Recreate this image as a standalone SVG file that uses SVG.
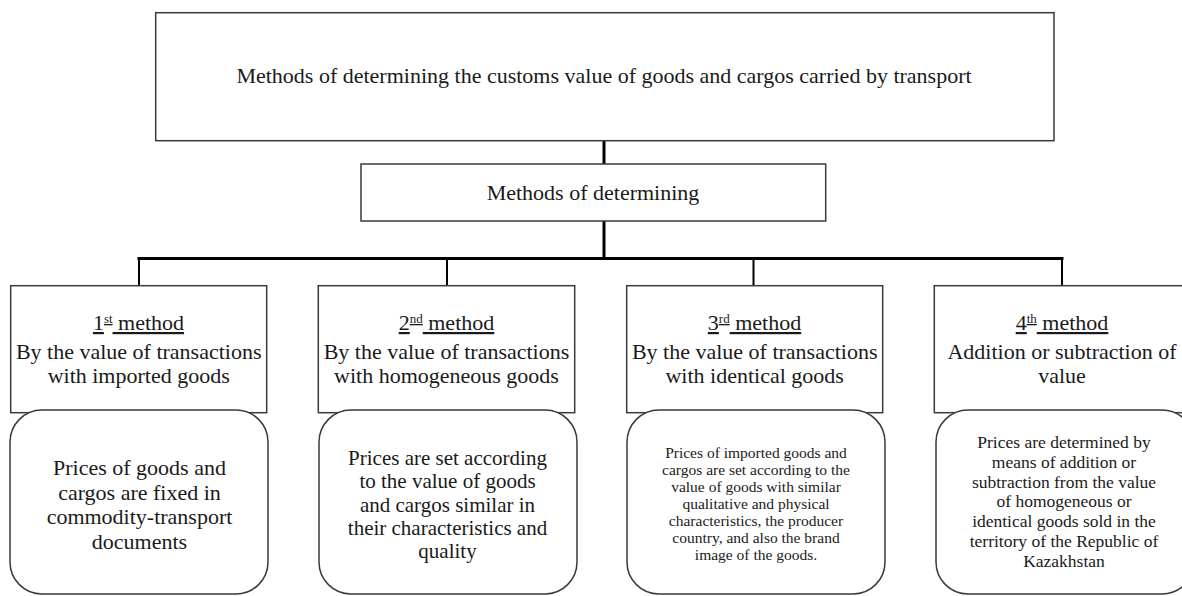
<svg xmlns="http://www.w3.org/2000/svg" width="1182" height="596" viewBox="0 0 1182 596">
<style>
.box{fill:#fff;stroke:#3a3a3a;stroke-width:1.5}
.conn{stroke:#000;fill:none;stroke-linecap:square}
.thick{stroke-width:3}
.thin{stroke-width:2}
text{font-family:'Liberation Serif','DejaVu Serif',serif;fill:#1a1a1a;text-anchor:middle}
.t22{font-size:22px}
.t21{font-size:21px}
.t17{font-size:17.5px}
.t15{font-size:15.5px}
.ul{text-decoration:underline}
.sup{font-size:13px}
</style>
<rect width="1182" height="596" fill="#fff"/>
<g id="connectors">
<path class="conn thick" d="M604,141 V164"/>
<path class="conn thick" d="M604,221 V258.5"/>
<path class="conn thick" d="M139,258.5 H1062"/>
<path class="conn thin" d="M139,258.5 V286"/>
<path class="conn thin" d="M447,258.5 V286"/>
<path class="conn thin" d="M753.5,258.5 V286"/>
<path class="conn thin" d="M1062,258.5 V286"/>
</g>
<g id="root">
<rect class="box" x="155.7" y="12.7" width="898.3" height="128"/>
<text class="t22" x="604" y="83.3">Methods of determining the customs value of goods and cargos carried by transport</text>
</g>
<g id="methods">
<rect class="box" x="361" y="164" width="464.7" height="57"/>
<text class="t22" x="593" y="199.5">Methods of determining</text>
</g>
<g id="method1">
<rect class="box" x="10.7" y="285.7" width="256" height="127"/>
<text class="t22 ul" x="138.5" y="330">1<tspan class="sup" baseline-shift="super">st</tspan> method</text>
<text class="t22" x="138.7" y="358.5">By the value of transactions</text>
<text class="t22" x="138.7" y="382.5">with imported goods</text>
</g>
<g id="desc1">
<rect class="box" x="10" y="410" width="258" height="184" rx="32"/>
<text class="t22" x="139.5" y="475">Prices of goods and</text>
<text class="t22" x="139.5" y="499.5">cargos are fixed in</text>
<text class="t22" x="139.5" y="524">commodity-transport</text>
<text class="t22" x="139.5" y="548.5">documents</text>
</g>
<g id="method2">
<rect class="box" x="318.3" y="285.7" width="256.4" height="127"/>
<text class="t22 ul" x="446.5" y="330">2<tspan class="sup" baseline-shift="super">nd</tspan> method</text>
<text class="t22" x="446.5" y="358.5">By the value of transactions</text>
<text class="t22" x="446.5" y="382.5">with homogeneous goods</text>
</g>
<g id="desc2">
<rect class="box" x="319" y="410" width="258" height="184" rx="32"/>
<text class="t21" x="447.5" y="465">Prices are set according</text>
<text class="t21" x="447.5" y="488.3">to the value of goods</text>
<text class="t21" x="447.5" y="511.6">and cargos similar in</text>
<text class="t21" x="447.5" y="534.9">their characteristics and</text>
<text class="t21" x="447.5" y="558.2">quality</text>
</g>
<g id="method3">
<rect class="box" x="626.7" y="285.7" width="256" height="127"/>
<text class="t22 ul" x="754.5" y="330">3<tspan class="sup" baseline-shift="super">rd</tspan> method</text>
<text class="t22" x="754.7" y="358.5">By the value of transactions</text>
<text class="t22" x="754.7" y="382.5">with identical goods</text>
</g>
<g id="desc3">
<rect class="box" x="627" y="410" width="258" height="184" rx="32"/>
<text class="t15" x="756" y="458">Prices of imported goods and</text>
<text class="t15" x="756" y="475">cargos are set according to the</text>
<text class="t15" x="756" y="492">value of goods with similar</text>
<text class="t15" x="756" y="509">qualitative and physical</text>
<text class="t15" x="756" y="526">characteristics, the producer</text>
<text class="t15" x="756" y="543">country, and also the brand</text>
<text class="t15" x="756" y="560">image of the goods.</text>
</g>
<g id="method4">
<rect class="box" x="934.3" y="285.7" width="256" height="127"/>
<text class="t22 ul" x="1062" y="330">4<tspan class="sup" baseline-shift="super">th</tspan> method</text>
<text class="t22" x="1062" y="358.5">Addition or subtraction of</text>
<text class="t22" x="1062" y="382.5">value</text>
</g>
<g id="desc4">
<rect class="box" x="936" y="410" width="258" height="184" rx="32"/>
<text class="t17" x="1064" y="448">Prices are determined by</text>
<text class="t17" x="1064" y="468">means of addition or</text>
<text class="t17" x="1064" y="487.5">subtraction from the value</text>
<text class="t17" x="1064" y="507">of homogeneous or</text>
<text class="t17" x="1064" y="527">identical goods sold in the</text>
<text class="t17" x="1064" y="547">territory of the Republic of</text>
<text class="t17" x="1064" y="567">Kazakhstan</text>
</g>
</svg>
